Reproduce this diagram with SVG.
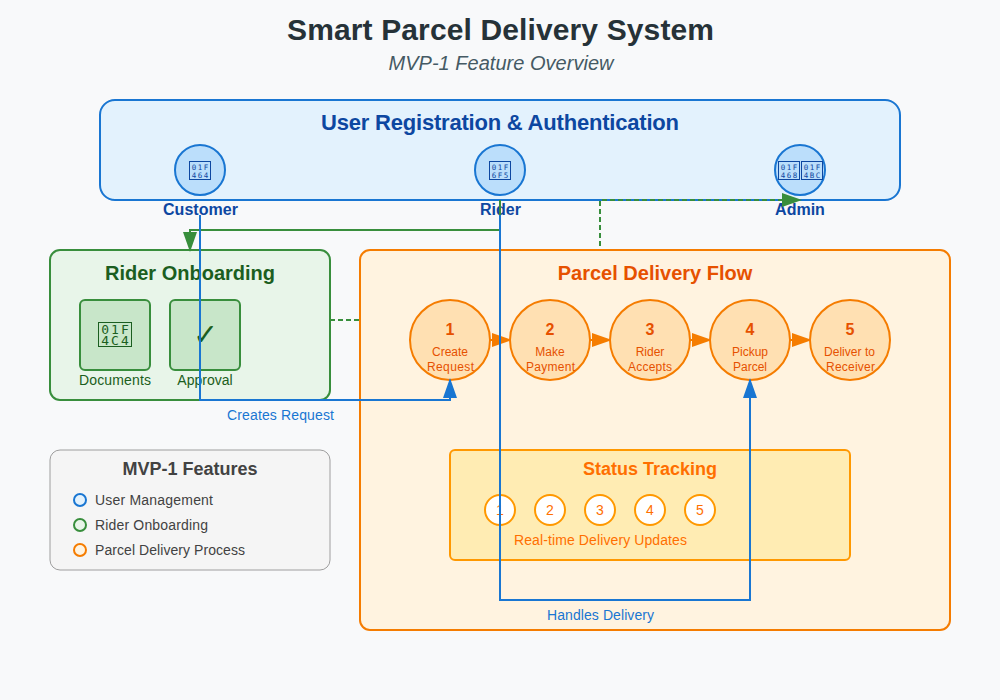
<svg xmlns="http://www.w3.org/2000/svg" width="1000" height="700" viewBox="0 0 1000 700">
<style>
text{font-family:"Liberation Sans",Arial,sans-serif;text-anchor:middle}
.blue{fill:#0d47a1}.b{font-weight:bold}
.user{fill:#bbdefb;stroke:#1976d2;stroke-width:2}
.grn{fill:#1b5e20}
.tile{fill:#c8e6c9;stroke:#388e3c;stroke-width:2}
.step{fill:#ffe0b2;stroke:#f57c00;stroke-width:2}
.num{font-size:16px;font-weight:bold;fill:#e65100}
.lab{font-size:12px;fill:#e65100}
.st{fill:#fff;stroke:#ff9800;stroke-width:2}
.stn{font-size:14px;fill:#ff6f00}
.c{fill:none;stroke-width:2}
.cb{stroke:#1976d2}.cg{stroke:#388e3c}.co{stroke:#f57c00}
.d{stroke-dasharray:5 3}
.lg{font-size:14px;fill:#424242;text-anchor:start}
.cl{font-size:14px;fill:#1976d2}
.tofu{fill:none;stroke-width:1}
text.hex{font-family:"DejaVu Sans Mono",monospace}
.hs{font-size:7.5px;letter-spacing:1.5px}
.hl{font-size:13px;letter-spacing:2px}
</style>
<defs>
<marker id="ab" markerWidth="10" markerHeight="7" refX="9" refY="3.5" orient="auto"><polygon points="0 0,10 3.5,0 7" fill="#1976d2"/></marker>
<marker id="ag" markerWidth="10" markerHeight="7" refX="9" refY="3.5" orient="auto"><polygon points="0 0,10 3.5,0 7" fill="#388e3c"/></marker>
<marker id="ao" markerWidth="10" markerHeight="7" refX="9" refY="3.5" orient="auto"><polygon points="0 0,10 3.5,0 7" fill="#f57c00"/></marker>
</defs>
<rect width="1000" height="700" fill="#f8f9fa"/>
<text x="500.5" y="40" font-size="30" font-weight="bold" fill="#263238" textLength="427">Smart Parcel Delivery System</text>
<text x="501" y="70" font-size="20" font-style="italic" fill="#455a64" textLength="225">MVP-1 Feature Overview</text>

<g id="registration">
<rect x="100" y="100" width="800" height="100" rx="15" fill="#e3f2fd" stroke="#1976d2" stroke-width="2"/>
<text x="500" y="130" font-size="22" class="blue b" textLength="358">User Registration &amp; Authentication</text>
</g>
<g id="customer"><circle class="user" cx="200" cy="170" r="25"/>
<rect class="tofu" x="189.5" y="161.5" width="21" height="18" stroke="#0d47a1"/>
<text class="hex hs blue"><tspan x="200.8" y="170">01F</tspan><tspan x="200.8" y="178.2">464</tspan></text>
<text x="200.5" y="215" font-size="16" class="blue b" textLength="75">Customer</text></g>
<g id="rider"><circle class="user" cx="500" cy="170" r="25"/>
<rect class="tofu" x="489.5" y="161.5" width="21" height="18" stroke="#0d47a1"/>
<text class="hex hs blue"><tspan x="500.8" y="170">01F</tspan><tspan x="500.8" y="178.2">6F5</tspan></text>
<text x="500.5" y="215" font-size="16" class="blue b" textLength="41">Rider</text></g>
<g id="admin"><circle class="user" cx="800" cy="170" r="25"/>
<rect class="tofu" x="778.5" y="161.5" width="21" height="18" stroke="#0d47a1"/>
<text class="hex hs blue"><tspan x="789.8" y="170">01F</tspan><tspan x="789.8" y="178.2">468</tspan></text>
<rect class="tofu" x="801.5" y="161.5" width="21" height="18" stroke="#0d47a1"/>
<text class="hex hs blue"><tspan x="812.8" y="170">01F</tspan><tspan x="812.8" y="178.2">4BC</tspan></text>
<text x="800" y="215" font-size="16" class="blue b">Admin</text></g>

<g id="rider-onboarding">
<rect x="50" y="250" width="280" height="150" rx="10" fill="#e8f5e9" stroke="#388e3c" stroke-width="2"/>
<text x="190" y="280" font-size="20" class="grn b">Rider Onboarding</text>
</g>
<g id="documents"><rect class="tile" x="80" y="300" width="70" height="70" rx="5"/>
<rect class="tofu" x="98.5" y="322.5" width="33" height="24" stroke="#1b5e20"/>
<text class="hex hl grn"><tspan x="116" y="334.2">01F</tspan><tspan x="116" y="345.2">4C4</tspan></text>
<text x="115" y="385" font-size="14" class="grn" textLength="72">Documents</text></g>
<g id="approval"><rect class="tile" x="170" y="300" width="70" height="70" rx="5"/><text x="205" y="345" font-size="30" class="grn">✓</text><text x="205" y="385" font-size="14" class="grn">Approval</text></g>

<g id="parcel-flow">
<rect x="360" y="250" width="590" height="380" rx="10" fill="#fff3e0" stroke="#f57c00" stroke-width="2"/>
<text x="655" y="280" font-size="20" fill="#e65100" class="b">Parcel Delivery Flow</text>
</g>
<g id="flow-connectors">
<path class="c co" d="M490 340H510" marker-end="url(#ao)"/>
<path class="c co" d="M590 340H610" marker-end="url(#ao)"/>
<path class="c co" d="M690 340H710" marker-end="url(#ao)"/>
<path class="c co" d="M790 340H810" marker-end="url(#ao)"/>
</g>
<g id="step1"><circle class="step" cx="450" cy="340" r="40"/><text x="450" y="335" class="num">1</text><text x="450" y="356" class="lab">Create</text><text x="450.5" y="371" class="lab" textLength="47">Request</text></g>
<g id="step2"><circle class="step" cx="550" cy="340" r="40"/><text x="550" y="335" class="num">2</text><text x="550" y="356" class="lab">Make</text><text x="550.5" y="371" class="lab" textLength="49">Payment</text></g>
<g id="step3"><circle class="step" cx="650" cy="340" r="40"/><text x="650" y="335" class="num">3</text><text x="650" y="356" class="lab">Rider</text><text x="650" y="371" class="lab" textLength="44">Accepts</text></g>
<g id="step4"><circle class="step" cx="750" cy="340" r="40"/><text x="750" y="335" class="num">4</text><text x="750" y="356" class="lab">Pickup</text><text x="750" y="371" class="lab">Parcel</text></g>
<g id="step5"><circle class="step" cx="850" cy="340" r="40"/><text x="850" y="335" class="num">5</text><text x="849.5" y="356" class="lab" textLength="51">Deliver to</text><text x="850.5" y="371" class="lab" textLength="49">Receiver</text></g>

<g id="status-tracking">
<rect x="450" y="450" width="400" height="110" rx="5" fill="#ffecb3" stroke="#ff9800" stroke-width="2"/>
<text x="650" y="475" font-size="18" fill="#ff6f00" class="b">Status Tracking</text>
<circle class="st" cx="500" cy="510" r="15"/><text x="500" y="515" class="stn">1</text>
<circle class="st" cx="550" cy="510" r="15"/><text x="550" y="515" class="stn">2</text>
<circle class="st" cx="600" cy="510" r="15"/><text x="600" y="515" class="stn">3</text>
<circle class="st" cx="650" cy="510" r="15"/><text x="650" y="515" class="stn">4</text>
<circle class="st" cx="700" cy="510" r="15"/><text x="700" y="515" class="stn">5</text>
<text x="600.5" y="545" font-size="14" fill="#ff6f00" textLength="173">Real-time Delivery Updates</text>
</g>

<g id="legend">
<rect x="50" y="450" width="280" height="120" rx="10" fill="#f5f5f5" stroke="#9e9e9e" stroke-width="1"/>
<text x="190" y="475" font-size="18" fill="#424242" class="b">MVP-1 Features</text>
<circle cx="80" cy="500" r="6" fill="#e3f2fd" stroke="#1976d2" stroke-width="2"/><text x="95" y="505" class="lg" textLength="118">User Management</text>
<circle cx="80" cy="525" r="6" fill="#e8f5e9" stroke="#388e3c" stroke-width="2"/><text x="95" y="530" class="lg" textLength="113">Rider Onboarding</text>
<circle cx="80" cy="550" r="6" fill="#fff3e0" stroke="#f57c00" stroke-width="2"/><text x="95" y="555" class="lg" textLength="150">Parcel Delivery Process</text>
</g>

<g id="connectors">
<path class="c cg d" d="M330 320H360"/>
<path class="c cg d" d="M600 246V200H800" marker-end="url(#ag)"/>
<path class="c cg" d="M500 200V230H190V250" marker-end="url(#ag)"/>
<path class="c cb" d="M200 215V400H450V380" marker-end="url(#ab)"/>
<path class="c cb" d="M500 215V600H750V380" marker-end="url(#ab)"/>
<text x="280.5" y="420" class="cl" textLength="107">Creates Request</text>
<text x="600.5" y="620" class="cl" textLength="107">Handles Delivery</text>
</g>
</svg>
